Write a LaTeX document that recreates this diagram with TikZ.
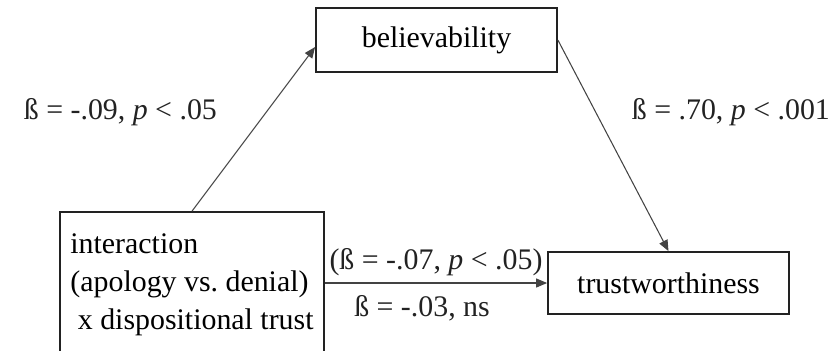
\documentclass[tikz,border=0pt]{standalone}
\usepackage{fontspec}
\setmainfont{Liberation Serif}
\usetikzlibrary{arrows.meta,calc,positioning}
\definecolor{Ink}{HTML}{222222}
\frenchspacing

\begin{document}
\begin{tikzpicture}[
  box/.style={draw=Ink,line width=1pt,fill=white,inner sep=0pt,font=\fontsize{17}{21.6}\selectfont},
  link/.style={-{Triangle[length=2.2mm,width=1.8mm]},line width=0.6pt,color=Ink!85},
  stat/.style={font=\fontsize{17}{21.6}\selectfont,color=Ink,inner sep=2pt}
]
\useasboundingbox (0,0) rectangle (16.64,7);
\clip (0,0) rectangle (16.64,7);
\node[box,minimum width=4.82cm,minimum height=1.28cm] (belief) at (8.73,6.20) {believability};
\node[box,minimum width=4.82cm,minimum height=1.24cm] (trust) at (13.37,1.34) {trustworthiness};
\node[box,align=left,minimum width=5.28cm,minimum height=2.92cm] (inter) at (3.84,1.30)
  {interaction\\(apology vs.\ denial)\\~x dispositional trust};

\draw[link] (inter.north) -- ([yshift=-1.4mm]belief.west);
\draw[link] (belief.east) -- (trust.north);
\draw[link] (inter.east |- trust.west) -- (trust.west)
  node[stat,midway,above=2pt] {(ß = -.07, \textit{p} < .05)}
  node[stat,midway,below=5pt,xshift=-2.8mm] {ß = -.03, ns};

\node[stat,anchor=west] (bpath) at (0.40,4.76) {ß = -.09, \textit{p} < .05};
\node[stat,anchor=west] (tpath) at (12.56,4.76) {ß = .70, \textit{p} < .001};
\end{tikzpicture}
\end{document}
